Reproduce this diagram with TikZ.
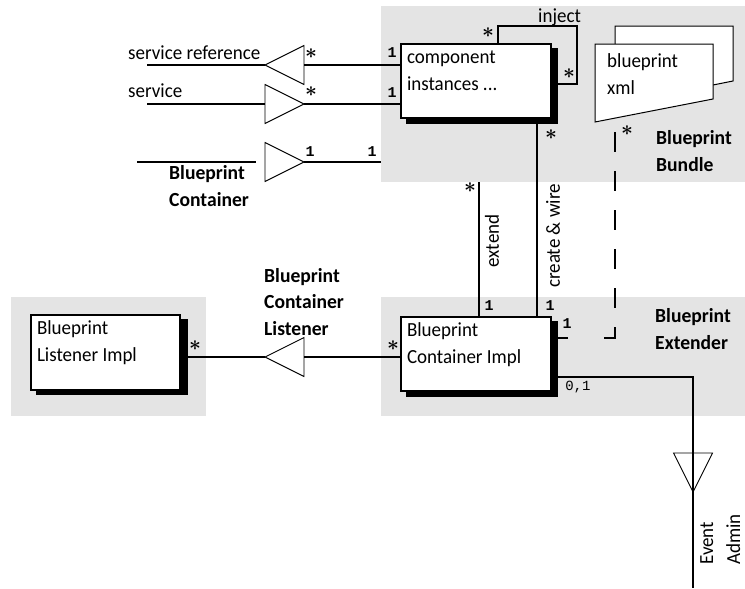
\documentclass[tikz,border=0pt]{standalone}
\usepackage{fontspec}
\setmainfont[FakeStretch=0.95,BoldFeatures={FakeStretch=0.98}]{Carlito}
\newfontfamily\monof{Liberation Mono}
\usetikzlibrary{shapes.geometric}
\definecolor{panel}{RGB}{228,228,228}
\newcommand\boxlabel[3]{\parbox[c][#2pt][t]{#1pt}{\raggedright\leftskip=6pt\fontsize{20}{26.5}\selectfont\rule{0pt}{19.5pt}#3}}
\tikzset{
  panelbox/.style={fill=panel,draw=none},
  umlbox/.style={draw=black,fill=white,line width=1.6pt,inner sep=0pt,outer sep=0pt,anchor=north west},
  wire/.style={line width=1.5pt,line cap=butt},
  tri/.style={draw=black,fill=white,line width=0.9pt,shape=isosceles triangle,isosceles triangle stretches,minimum width=39pt,minimum height=39pt,inner sep=0pt,outer sep=0pt},
  lab/.style={anchor=base west,inner sep=0pt,font=\fontsize{20}{26.5}\selectfont,align=left},
  bold/.style={lab,font=\fontsize{20}{26.5}\selectfont\bfseries},
  rot/.style={inner sep=0pt,rotate=90,font=\fontsize{20}{26}\selectfont},
  mult/.style={inner sep=0pt,font=\monof\bfseries\fontsize{15}{15}\selectfont},
  multsmall/.style={inner sep=0pt,font=\monof\fontsize{14}{14}\selectfont},
  star/.style={inner sep=0pt,font=\fontsize{21}{21}\selectfont\boldmath},
  dashwire/.style={wire,dash pattern=on 20pt off 19pt on 20pt off 19pt on 20pt off 19pt on 20pt off 19pt on 20pt off 19pt on 22pt off 36pt on 12pt}
}
\begin{document}
\begin{tikzpicture}[x=1pt,y=-1pt]
\useasboundingbox (0,0) rectangle (745,589);
% panels
\fill[panelbox] (381,6) rectangle (745,182);
\fill[panelbox] (381,297) rectangle (745,416);
\fill[panelbox] (11,297) rectangle (206,416);
% shadows
\fill[black] (406,48) rectangle (558,124);
\fill[black] (406,321) rectangle (558,397);
\fill[black] (36,319) rectangle (187.5,394.5);
% free ends
\coordinate (refend) at (147,65);
\coordinate (srvend) at (147,104);
\coordinate (bcend) at (137,162);
\coordinate (bcgap) at (256,162);
\coordinate (bcpanel) at (381,162);
\coordinate (extendtop) at (479,182);
\coordinate (adminend) at (693,588);
% boxes
\node[umlbox] (comp) at (401,44) {\boxlabel{150}{74}{component\\instances ...}};
\node[umlbox] (impl) at (401,317) {\boxlabel{150}{74}{Blueprint\\Container Impl}};
\node[umlbox] (listener) at (31,315) {\boxlabel{149}{75}{Blueprint\\Listener Impl}};
% document
\draw[line width=1pt,fill=white] (615,44) -- (615,26) -- (733,26) -- (733,81) -- (713,85);
\draw[line width=1pt,fill=white] (595,44) -- (713,44) -- (713,99) -- (595,122) -- cycle;
\node[lab] (xmltext) at (607,94) {blueprint\\xml};
\coordinate (xmlfoot) at (615,132);
% triangles
\node[tri,anchor=apex,shape border rotate=180] (tref) at (265,65) {};
\node[tri,anchor=apex] (tsrv) at (304,104) {};
\node[tri,anchor=apex] (tbc) at (304,162) {};
\node[tri,anchor=apex,shape border rotate=180] (tlis) at (265,357) {};
\node[tri,anchor=apex,shape border rotate=270] (tadm) at (693,492) {};
% connectors
\draw[wire] (refend) -- (tref.apex);
\draw[wire] (tref.east) -- (comp.west |- tref.east);
\draw[wire] (srvend) -- (tsrv.west);
\draw[wire] (tsrv.apex) -- (comp.west |- tsrv.apex);
\draw[wire] (bcend) -- (bcgap);
\draw[wire] (tbc.apex) -- (bcpanel);
\draw[wire] (498,44) -- (498,26) -- (577,26) -- (577,84) -- (558,84);
\draw[wire] (537,124) -- (impl.north -| 537,0);
\draw[wire] (extendtop) -- (extendtop |- impl.north);
\draw[dashwire] (xmlfoot) -- (615,338) -- (558,338);
\draw[wire] (187.5,357) -- (tlis.apex);
\draw[wire] (tlis.east) -- (impl.west |- tlis.east);
\draw[wire] (558,377) -- (693,377) -- (tadm.south);
\draw[wire] (tadm.apex) -- (adminend);
% labels
\node[lab] (tref0) at (128,59) {service reference};
\node[lab] (tsrv0) at (128,97) {service};
\node[bold] (tbc0) at (169,206) {Blueprint\\Container};
\node[lab] (inj) at (538,22) {inject};
\node[bold] (bundle) at (656,171) {Blueprint\\Bundle};
\node[bold] (ext) at (655,349) {Blueprint\\Extender};
\node[bold] (bcl) at (264,335) {Blueprint\\Container\\Listener};
\node[rot] (extendl) at (492,241) {extend};
\node[rot] (createl) at (553,236) {create \& wire};
\node[rot,anchor=base west] (eventl) at (713,565) {Event};
\node[rot,anchor=base west] (adminl) at (740,565) {Admin};
% multiplicities
\node[mult] (m1) at (392,53) {1};
\node[mult] (m2) at (392,93) {1};
\node[mult] (m3) at (310,152) {1};
\node[mult] (m4) at (372,152) {1};
\node[mult] (m5) at (489,306) {1};
\node[mult] (m6) at (550,306) {1};
\node[mult] (m7) at (567,324) {1};
\node[multsmall] (m8) at (578,387) {0,1};
\node[star] (s1) at (311,54) {$\ast$};
\node[star] (s2) at (311,92) {$\ast$};
\node[star] (s3) at (488,33) {$\ast$};
\node[star] (s4) at (569,74) {$\ast$};
\node[star] (s5) at (551,135) {$\ast$};
\node[star] (s6) at (627,131) {$\ast$};
\node[star] (s7) at (470,188) {$\ast$};
\node[star] (s8) at (393,346) {$\ast$};
\node[star] (s9) at (195,346) {$\ast$};
\end{tikzpicture}
\end{document}
